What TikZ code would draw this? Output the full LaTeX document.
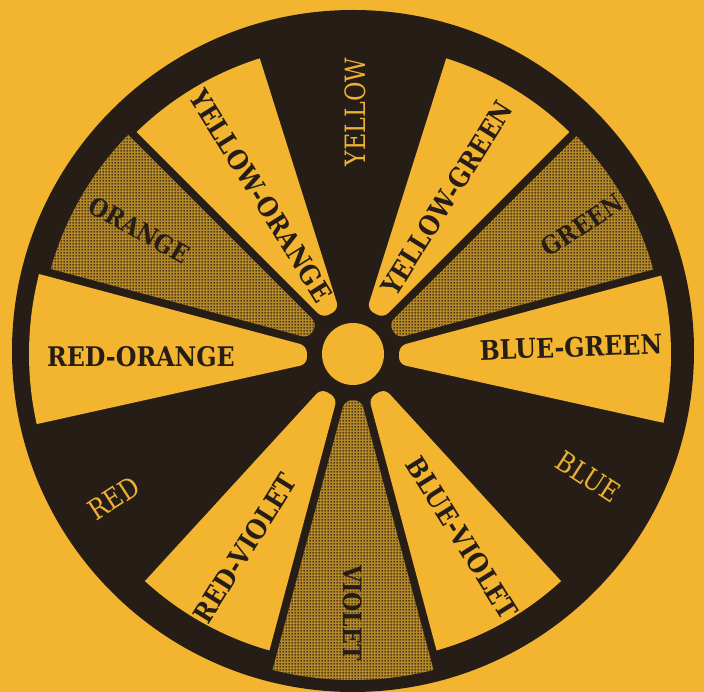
\documentclass[tikz,border=0pt]{standalone}
\usepackage{fontspec}
\usepackage{graphicx}
\setmainfont{DejaVu Serif}
\usetikzlibrary{patterns}
\definecolor{paper}{RGB}{243,181,48}
\definecolor{ink}{RGB}{38,30,22}
\definecolor{primtext}{RGB}{236,176,52}
\colorlet{halfbase}{ink!30!paper}
\pgfdeclarepatternformonly{halftone}{\pgfqpoint{0pt}{0pt}}{\pgfqpoint{3pt}{3pt}}{\pgfqpoint{3pt}{3pt}}{%
  \pgfpathcircle{\pgfqpoint{1.5pt}{1.5pt}}{1.1pt}\pgfusepath{fill}}
\newcommand\cnd[1]{\scalebox{0.88}[1]{#1}}
% #1 style, #2 low edge angle, #3 low offset, #4 high edge angle, #5 high offset, #6 outer radius
\newcommand\colwedge[6]{%
  \path[#1] ({#2+asin(#3/#6)}:#6) [rounded corners=7pt]
    -- ({#2+asin(#3/47)}:47) -- ({#4-asin(#5/47)}:47) [sharp corners]
    -- ({#4-asin(#5/#6)}:#6)
    arc[start angle={#4-asin(#5/#6)}, end angle={#2+asin(#3/#6)}, radius=#6] -- cycle;}
\tikzset{
  light/.style={fill=paper},
  dotted wedge/.style={fill=halfbase, postaction={pattern=halftone, pattern color=ink}},
  lab/.style={font=\bfseries\fontsize{27}{27}\selectfont, text=ink, inner sep=0pt},
  seclab/.style={font=\bfseries\fontsize{25}{25}\selectfont, text=ink, inner sep=0pt},
  primlab/.style={font=\fontsize{28}{28}\selectfont, text=primtext, inner sep=0pt},
}
\begin{document}
\begin{tikzpicture}[x=1pt,y=1pt]
  \fill[paper] (-353,-338) rectangle (351,354);
  \useasboundingbox (-353,-338) rectangle (351,354);
  % dark disc
  \fill[ink] (0,3) circle[radius=341];
  % group around 30 deg
  \colwedge{light}{-12.5}{0}{15}{4}{318}
  \colwedge{dotted wedge}{15}{4}{45}{4}{312}
  \colwedge{light}{45}{4}{72.5}{0}{310}
  % group around 150 deg
  \colwedge{light}{107.5}{0}{135}{4}{310}
  \colwedge{dotted wedge}{135}{4}{165}{4}{314}
  \colwedge{light}{165}{4}{192.5}{0}{324}
  % group around 270 deg
  \colwedge{light}{227.5}{0}{255}{4}{308}
  \colwedge{dotted wedge}{255}{4}{285}{4}{326}
  \colwedge{light}{285}{4}{312.5}{0}{308}
  % hub
  \fill[paper] (0,0) circle[radius=31];
  % labels
  \node[primlab, rotate=90] (yellow) at (2,242) {\scalebox{0.85}[1]{YELLOW}};
  \node[primlab, rotate=33] (red) at (-239,-144) {\scalebox{0.85}[1]{RED}};
  \node[primlab, rotate=-33] (blue) at (235,-123) {\scalebox{0.85}[1]{BLUE}};
  \node[lab, rotate=-58] (yo) at (-92,158) {\cnd{YELLOW-ORANGE}};
  \node[lab, rotate=58] (yg) at (94,156) {\cnd{YELLOW-GREEN}};
  \node[seclab, rotate=-29] (orange) at (-214,124) {\cnd{ORANGE}};
  \node[seclab, rotate=33] (green) at (229,129) {\cnd{GREEN}};
  \node[lab, rotate=2] (bg) at (218,7) {\cnd{BLUE-GREEN}};
  \node[lab] (ro) at (-212,-3) {\cnd{RED-ORANGE}};
  \node[lab, rotate=58] (rv) at (-108,-194) {\cnd{RED-VIOLET}};
  \node[seclab, rotate=-90] (violet) at (0,-259) {\cnd{VIOLET}};
  \node[lab, rotate=-58] (bv) at (109,-184) {\cnd{BLUE-VIOLET}};
\end{tikzpicture}
\end{document}
